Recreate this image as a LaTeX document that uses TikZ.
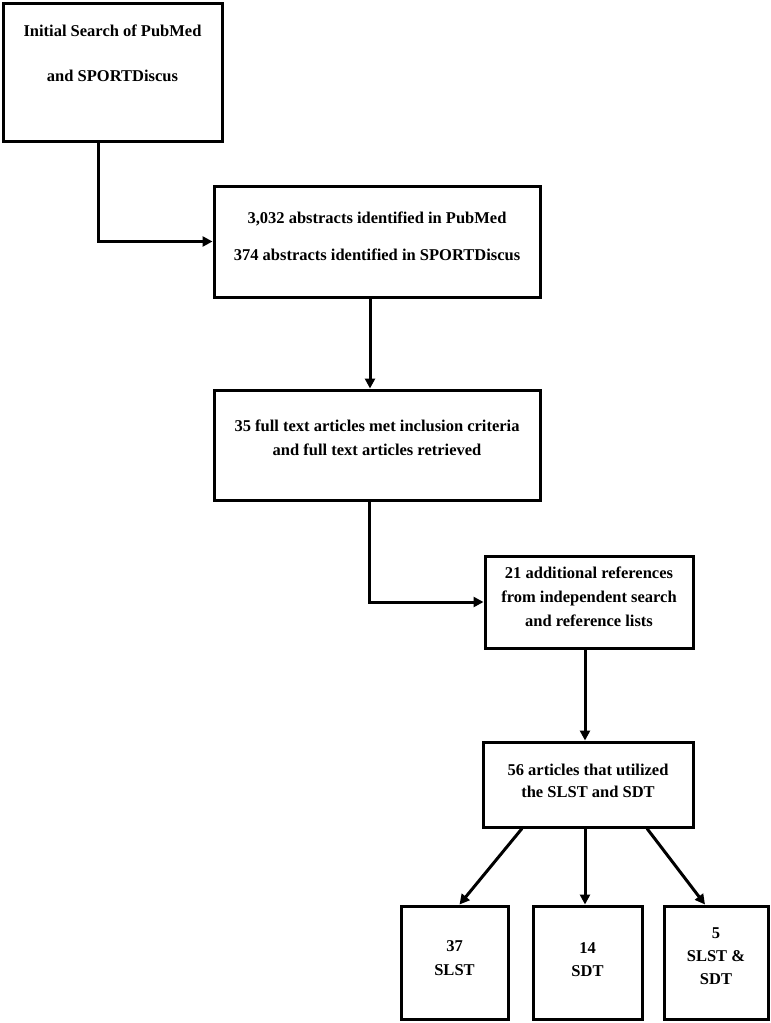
\documentclass[tikz,border=0pt]{standalone}
\usepackage{fontspec}
\setmainfont{Liberation Serif}
\usepackage{tikz}
\usetikzlibrary{positioning, arrows.meta}

\tikzset{
  box/.style={draw, line width=3pt, rectangle, inner sep=0pt},
  txt/.style={align=center, inner sep=0pt, anchor=north},
  arr/.style={-{Triangle[length=10pt,width=10pt]}, line width=3pt},
}
\newcommand{\boxfont}[1]{\bfseries\fontsize{16.5}{#1}\selectfont}

\begin{document}
\begin{tikzpicture}[x=1pt, y=-1pt]
  \useasboundingbox (0,0) rectangle (771,1023);

  % boxes
  \node[box, minimum width=219pt, minimum height=138pt] (search) at (112.5,72) {};
  \node[box, minimum width=326pt, minimum height=111pt] (abstracts) at (377,241.5) {};
  \node[box, minimum width=326pt, minimum height=110pt] (fulltext) at (377,445) {};
  \node[box, minimum width=208pt, minimum height=92pt] (additional) at (589,602) {};
  \node[box, minimum width=210pt, minimum height=85pt] (utilized) at (588,784.5) {};
  \node[box, minimum width=107pt, minimum height=113pt] (slst) at (454.5,962.5) {};
  \node[box, minimum width=109pt, minimum height=113pt] (sdt) at (587.5,962.5) {};
  \node[box, minimum width=104pt, minimum height=113pt] (both) at (716,962.5) {};

  % texts
  \node[txt, font=\boxfont{45}] (searchtxt) at ([yshift=-23.5pt]search.north)
    {Initial Search of PubMed\\and SPORTDiscus};
  \node[txt, font=\boxfont{37}] (abstractstxt) at ([yshift=-27.5pt]abstracts.north)
    {3,032 abstracts identified in PubMed\\374 abstracts identified in SPORTDiscus};
  \node[txt, font=\boxfont{24}] (fulltexttxt) at ([yshift=-31.5pt]fulltext.north)
    {35 full text articles met inclusion criteria\\and full text articles retrieved};
  \node[txt, font=\boxfont{24}] (additionaltxt) at ([yshift=-12.5pt]additional.north)
    {21 additional references\\from independent search\\and reference lists};
  \node[txt, font=\boxfont{22}] (utilizedtxt) at ([yshift=-23.5pt]utilized.north)
    {56 articles that utilized\\the SLST and SDT};
  \node[txt, font=\boxfont{24}] (slsttxt) at ([yshift=-35.5pt]slst.north) {37\\SLST};
  \node[txt, font=\boxfont{23}] (sdttxt) at ([yshift=-37.5pt]sdt.north) {14\\SDT};
  \node[txt, font=\boxfont{23}] (bothtxt) at ([yshift=-22.5pt]both.north) {5\\SLST \&\\SDT};

  % connectors
  \draw[arr] ([xshift=-14.5pt]search.south) |- (abstracts.west);
  \draw[arr] ([xshift=-7pt]abstracts.south) -- ([xshift=-7pt]fulltext.north);
  \draw[arr] ([xshift=-8pt]fulltext.south) |- (additional.west);
  \draw[arr] ([xshift=-4pt]additional.south) -- ([xshift=-3pt]utilized.north);
  \draw[arr] ([xshift=-66pt]utilized.south) -- ([xshift=5pt]slst.north);
  \draw[arr] ([xshift=-3pt]utilized.south) -- ([xshift=-2.5pt]sdt.north);
  \draw[arr] ([xshift=59pt]utilized.south) -- ([xshift=-11pt]both.north);
\end{tikzpicture}
\end{document}
